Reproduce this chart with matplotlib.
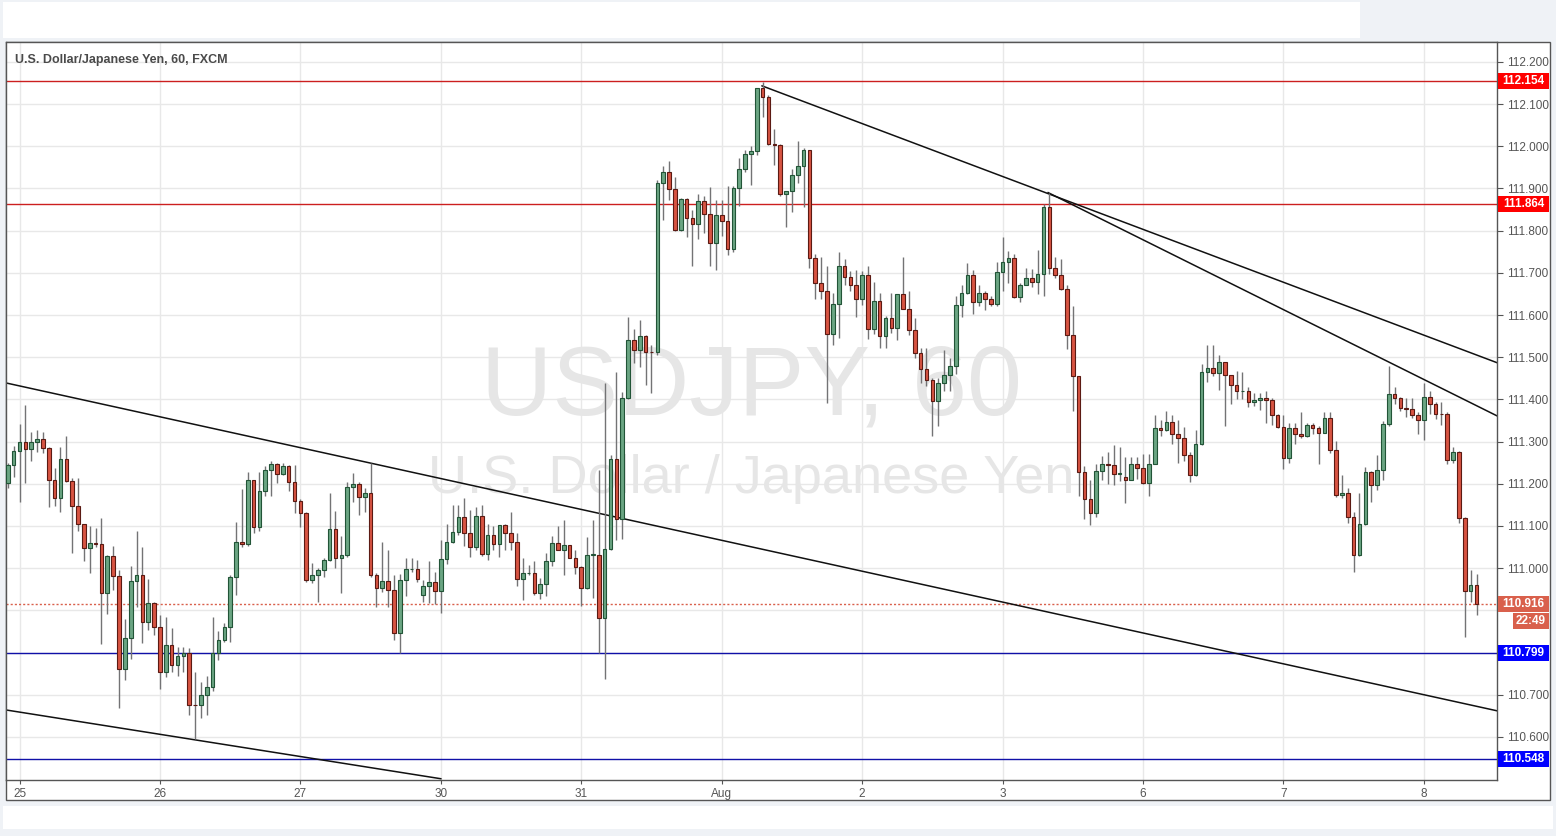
import matplotlib.pyplot as plt
from matplotlib.patches import Rectangle
from matplotlib.transforms import blended_transform_factory
import numpy as np

plt.rcParams['font.family'] = ['Liberation Sans', 'DejaVu Sans']

# hourly USD/JPY candles (index 0 = 22:00 on the 24th)
opens = [
    111.201, 111.244, 111.278, 111.298, 111.282, 111.298, 111.306, 111.284, 111.209, 111.166, 111.258, 111.207,
    111.148, 111.104, 111.047, 111.059, 111.057, 110.941, 111.029, 110.982, 110.760, 110.834, 110.970, 110.984,
    110.872, 110.917, 110.860, 110.753, 110.817, 110.770, 110.792, 110.798, 110.676, 110.675, 110.700, 110.718,
    110.800, 110.830, 110.860, 110.980, 111.062, 111.058, 111.209, 111.097, 111.183, 111.233, 111.247, 111.223,
    111.242, 111.204, 111.159, 111.130, 110.972, 110.984, 110.996, 111.020, 111.092, 111.024, 111.031, 111.192,
    111.199, 111.168, 111.178, 110.984, 110.952, 110.969, 110.948, 110.846, 110.971, 110.997, 110.999, 110.937,
    110.958, 110.967, 110.947, 111.021, 111.062, 111.085, 111.121, 111.083, 111.050, 111.123, 111.033, 111.078,
    111.057, 111.102, 111.083, 111.062, 110.974, 110.988, 110.988, 110.941, 110.963, 111.017, 111.059, 111.043,
    111.054, 111.024, 111.002, 110.953, 111.031, 111.031, 110.881, 111.045, 111.258, 111.116, 111.403, 111.541,
    111.517, 111.550, 111.513, 111.513, 111.912, 111.940, 111.898, 111.802, 111.874, 111.829, 111.816, 111.869,
    111.840, 111.770, 111.836, 111.822, 111.756, 111.901, 111.946, 111.981, 111.989, 112.138, 112.116, 112.005,
    112.004, 111.886, 111.893, 111.931, 111.952, 111.991, 111.735, 111.677, 111.658, 111.556, 111.627, 111.717,
    111.691, 111.671, 111.639, 111.694, 111.566, 111.634, 111.550, 111.594, 111.570, 111.650, 111.615, 111.564,
    111.509, 111.473, 111.446, 111.396, 111.438, 111.457, 111.480, 111.623, 111.651, 111.694, 111.631, 111.653,
    111.639, 111.625, 111.702, 111.725, 111.734, 111.642, 111.670, 111.687, 111.678, 111.697, 111.857, 111.712,
    111.695, 111.662, 111.553, 111.456, 111.229, 111.164, 111.131, 111.230, 111.247, 111.245, 111.223, 111.217,
    111.209, 111.247, 111.237, 111.201, 111.247, 111.332, 111.328, 111.347, 111.318, 111.309, 111.268, 111.221,
    111.295, 111.464, 111.475, 111.463, 111.489, 111.458, 111.434, 111.419, 111.421, 111.393, 111.399, 111.403,
    111.398, 111.363, 111.335, 111.261, 111.332, 111.317, 111.314, 111.340, 111.332, 111.321, 111.355, 111.280,
    111.173, 111.179, 111.122, 111.031, 111.104, 111.227, 111.197, 111.233, 111.341, 111.412, 111.403, 111.379,
    111.377, 111.363, 111.351, 111.406, 111.390, 111.366, 111.365, 111.256, 111.276, 111.118, 110.946, 110.960,
]
highs = [
    111.250, 111.290, 111.342, 111.387, 111.322, 111.327, 111.322, 111.288, 111.237, 111.287, 111.314, 111.213,
    111.213, 111.104, 111.100, 111.095, 111.120, 111.032, 111.053, 110.996, 110.879, 111.004, 111.089, 111.051,
    110.975, 110.919, 110.888, 110.884, 110.858, 110.813, 110.813, 110.810, 110.753, 110.731, 110.745, 110.884,
    110.852, 110.871, 110.984, 111.110, 111.187, 111.229, 111.209, 111.229, 111.242, 111.253, 111.250, 111.249,
    111.245, 111.245, 111.163, 111.134, 111.012, 111.000, 111.024, 111.179, 111.136, 111.076, 111.205, 111.225,
    111.205, 111.189, 111.249, 110.988, 111.063, 111.043, 110.984, 110.986, 111.024, 111.024, 111.020, 110.972,
    111.017, 110.992, 111.067, 111.105, 111.150, 111.150, 111.166, 111.137, 111.144, 111.150, 111.105, 111.099,
    111.102, 111.105, 111.133, 111.084, 111.024, 111.008, 111.017, 110.976, 111.035, 111.077, 111.099, 111.113,
    111.054, 111.043, 111.005, 111.073, 111.113, 111.233, 111.438, 111.268, 111.466, 111.418, 111.596, 111.566,
    111.587, 111.553, 111.529, 111.920, 111.952, 111.964, 111.927, 111.877, 111.877, 111.849, 111.887, 111.882,
    111.903, 111.873, 111.873, 111.906, 111.905, 111.972, 111.991, 112.001, 112.138, 112.153, 112.122, 112.040,
    112.005, 111.893, 111.946, 112.013, 111.995, 111.991, 111.745, 111.737, 111.716, 111.653, 111.750, 111.732,
    111.704, 111.706, 111.704, 111.716, 111.679, 111.653, 111.598, 111.653, 111.650, 111.737, 111.658, 111.592,
    111.522, 111.522, 111.451, 111.451, 111.516, 111.499, 111.646, 111.671, 111.724, 111.706, 111.672, 111.657,
    111.645, 111.725, 111.785, 111.751, 111.745, 111.676, 111.712, 111.709, 111.753, 111.862, 111.889, 111.737,
    111.733, 111.670, 111.622, 111.456, 111.243, 111.208, 111.247, 111.265, 111.275, 111.291, 111.288, 111.263,
    111.263, 111.263, 111.271, 111.271, 111.364, 111.350, 111.372, 111.362, 111.350, 111.334, 111.276, 111.328,
    111.483, 111.528, 111.528, 111.506, 111.489, 111.458, 111.468, 111.466, 111.430, 111.414, 111.416, 111.419,
    111.403, 111.365, 111.363, 111.345, 111.343, 111.370, 111.343, 111.345, 111.337, 111.369, 111.370, 111.302,
    111.221, 111.190, 111.132, 111.179, 111.240, 111.231, 111.268, 111.349, 111.479, 111.430, 111.406, 111.403,
    111.403, 111.369, 111.440, 111.419, 111.395, 111.395, 111.369, 111.286, 111.278, 111.121, 110.995, 110.986,
]
lows = [
    111.190, 111.217, 111.156, 111.201, 111.253, 111.276, 111.272, 111.146, 111.148, 111.132, 111.205, 111.037,
    111.087, 111.018, 110.988, 111.050, 110.820, 110.891, 110.948, 110.668, 110.734, 110.784, 110.909, 110.822,
    110.854, 110.842, 110.713, 110.742, 110.753, 110.745, 110.755, 110.652, 110.595, 110.644, 110.652, 110.710,
    110.783, 110.826, 110.826, 110.937, 111.050, 111.053, 111.084, 111.087, 111.170, 111.170, 111.201, 111.221,
    111.182, 111.130, 111.097, 110.968, 110.964, 110.921, 110.980, 111.016, 111.000, 110.942, 111.027, 111.158,
    111.126, 111.134, 110.980, 110.909, 110.944, 110.909, 110.830, 110.800, 110.933, 110.990, 110.968, 110.921,
    110.917, 110.915, 110.893, 111.010, 111.059, 111.079, 111.053, 111.026, 111.043, 111.028, 111.020, 111.042,
    111.026, 111.043, 111.042, 110.958, 110.925, 110.985, 110.937, 110.926, 110.934, 111.004, 111.042, 110.983,
    111.023, 110.986, 110.911, 110.950, 110.929, 110.798, 110.737, 111.042, 111.067, 111.069, 111.400, 111.486,
    111.476, 111.434, 111.415, 111.506, 111.824, 111.873, 111.800, 111.800, 111.786, 111.715, 111.780, 111.794,
    111.716, 111.707, 111.788, 111.742, 111.750, 111.859, 111.940, 111.908, 111.980, 112.070, 112.003, 111.956,
    111.881, 111.808, 111.845, 111.912, 111.857, 111.711, 111.637, 111.637, 111.392, 111.528, 111.546, 111.672,
    111.657, 111.595, 111.623, 111.542, 111.554, 111.522, 111.522, 111.558, 111.540, 111.615, 111.552, 111.499,
    111.439, 111.431, 111.313, 111.337, 111.421, 111.421, 111.461, 111.595, 111.649, 111.603, 111.621, 111.611,
    111.621, 111.621, 111.657, 111.676, 111.641, 111.631, 111.670, 111.666, 111.650, 111.646, 111.697, 111.688,
    111.660, 111.520, 111.372, 111.172, 111.117, 111.103, 111.121, 111.208, 111.200, 111.198, 111.206, 111.154,
    111.208, 111.212, 111.200, 111.172, 111.246, 111.314, 111.326, 111.295, 111.249, 111.253, 111.204, 111.219,
    111.291, 111.441, 111.456, 111.423, 111.338, 111.389, 111.401, 111.401, 111.383, 111.385, 111.374, 111.343,
    111.340, 111.332, 111.235, 111.250, 111.295, 111.308, 111.311, 111.317, 111.248, 111.321, 111.272, 111.169,
    111.166, 111.108, 110.992, 111.029, 111.103, 111.156, 111.185, 111.208, 111.337, 111.390, 111.373, 111.359,
    111.355, 111.319, 111.303, 111.365, 111.353, 111.340, 111.248, 111.250, 111.106, 110.837, 110.921, 110.889,
]
closes = [
    111.244, 111.278, 111.298, 111.282, 111.298, 111.306, 111.284, 111.209, 111.166, 111.258, 111.207, 111.148,
    111.104, 111.047, 111.059, 111.057, 110.941, 111.029, 110.982, 110.760, 110.834, 110.970, 110.984, 110.872,
    110.917, 110.860, 110.753, 110.817, 110.770, 110.792, 110.798, 110.676, 110.675, 110.700, 110.718, 110.800,
    110.830, 110.860, 110.980, 111.062, 111.058, 111.209, 111.097, 111.183, 111.233, 111.247, 111.223, 111.242,
    111.204, 111.159, 111.130, 110.972, 110.984, 110.996, 111.020, 111.092, 111.024, 111.031, 111.192, 111.199,
    111.168, 111.178, 110.984, 110.952, 110.969, 110.948, 110.846, 110.971, 110.997, 110.999, 110.974, 110.958,
    110.967, 110.947, 111.021, 111.062, 111.085, 111.121, 111.083, 111.050, 111.123, 111.033, 111.078, 111.057,
    111.102, 111.083, 111.062, 110.974, 110.988, 110.988, 110.941, 110.963, 111.017, 111.059, 111.043, 111.054,
    111.024, 111.002, 110.953, 111.031, 111.031, 110.881, 111.045, 111.258, 111.116, 111.403, 111.541, 111.517,
    111.550, 111.513, 111.512, 111.912, 111.940, 111.898, 111.802, 111.874, 111.829, 111.816, 111.869, 111.840,
    111.770, 111.836, 111.822, 111.756, 111.901, 111.946, 111.981, 111.989, 112.138, 112.116, 112.005, 112.004,
    111.886, 111.893, 111.931, 111.952, 111.991, 111.735, 111.677, 111.658, 111.556, 111.627, 111.717, 111.691,
    111.671, 111.639, 111.694, 111.566, 111.634, 111.550, 111.594, 111.570, 111.650, 111.615, 111.564, 111.509,
    111.473, 111.446, 111.396, 111.438, 111.457, 111.480, 111.623, 111.651, 111.694, 111.631, 111.653, 111.639,
    111.625, 111.702, 111.725, 111.734, 111.642, 111.670, 111.687, 111.678, 111.697, 111.857, 111.712, 111.695,
    111.662, 111.553, 111.456, 111.229, 111.164, 111.131, 111.230, 111.247, 111.245, 111.223, 111.225, 111.209,
    111.247, 111.237, 111.201, 111.247, 111.332, 111.328, 111.347, 111.318, 111.309, 111.268, 111.221, 111.295,
    111.464, 111.475, 111.463, 111.489, 111.458, 111.434, 111.419, 111.421, 111.393, 111.399, 111.403, 111.398,
    111.363, 111.335, 111.261, 111.332, 111.317, 111.314, 111.340, 111.332, 111.321, 111.355, 111.280, 111.173,
    111.179, 111.122, 111.031, 111.104, 111.227, 111.197, 111.233, 111.341, 111.412, 111.403, 111.379, 111.377,
    111.363, 111.351, 111.406, 111.390, 111.366, 111.365, 111.256, 111.276, 111.118, 110.946, 110.960, 110.916,
]

day_labels = ['25', '26', '27', '30', '31', 'Aug', '2', '3', '6', '7', '8']
day_start_idx = [2, 26, 50, 74, 98, 122, 146, 170, 194, 218, 242]

price_ticks = [110.6, 110.7, 110.8, 110.9, 111.0, 111.1, 111.2, 111.3, 111.4,
               111.5, 111.6, 111.7, 111.8, 111.9, 112.0, 112.1, 112.2]
hidden_ticks = [110.8, 110.9]  # covered by the price boxes

resistance = [112.154, 111.864]
support = [110.799, 110.548]
countdown = '22:49'

# drawn trend lines: (start index, start price, end index, end price)
trend_x0 = [-0.31, -0.31, 128.9, 177.8]
trend_p0 = [111.439, 110.664, 112.143, 111.890]
trend_x1 = [254.5, 74.0, 254.5, 254.5]
trend_p1 = [110.662, 110.501, 111.487, 111.361]

W, H = 1556, 836
def fx(px):
    return px / W
def fy(py):
    return 1 - py / H

fig = plt.figure(figsize=(W / 100, H / 100), dpi=100)
fig.patch.set_facecolor('#eff2f6')
fig.add_artist(Rectangle((fx(3), fy(38)), fx(1357), 36 / H, transform=fig.transFigure,
                         facecolor='white', edgecolor='none', zorder=-5))
fig.add_artist(Rectangle((fx(3), fy(829)), fx(1550), 23 / H, transform=fig.transFigure,
                         facecolor='white', edgecolor='none', zorder=-5))
fig.add_artist(Rectangle((fx(6), fy(800)), fx(1544), 758 / H, transform=fig.transFigure,
                         facecolor='white', edgecolor='#555555', lw=1, zorder=-4))

ax = fig.add_axes([fx(6), fy(780), fx(1491), 738 / H])
ax.set_facecolor('white')
for s in ax.spines.values():
    s.set_color('#555555')
    s.set_linewidth(1)

idx = np.arange(len(closes))
o = np.array(opens); h = np.array(highs); l = np.array(lows); c = np.array(closes)
up = c >= o

# grid
for p in price_ticks:
    ax.axhline(p, color='#e8e8e8', lw=1, zorder=0)
for d in day_start_idx:
    ax.axvline(d, color='#e8e8e8', lw=1, zorder=0)

# watermark
ax.text(0.5, 0.530, 'USDJPY, 60', transform=ax.transAxes, ha='center', va='center',
        fontsize=71, color='#e6e6e6', zorder=0.5)
ax.text(0.5, 0.408, 'U.S. Dollar / Japanese Yen', transform=ax.transAxes, ha='center',
        va='center', fontsize=39, color='#e6e6e6', zorder=0.5)

# levels
for p in resistance:
    ax.axhline(p, color='#cc1f1f', lw=1, zorder=2)
for p in support:
    ax.axhline(p, color='#1010a8', lw=1, zorder=2)
ax.axhline(closes[-1], color='#d9604c', lw=1, ls=(0, (1.5, 1.5)), zorder=2)

# trend lines
for x0, p0, x1, p1 in zip(trend_x0, trend_p0, trend_x1, trend_p1):
    ax.plot([x0, x1], [p0, p1], color='#111111', lw=1.1, zorder=2.5)

# candles
ax.vlines(idx, l, h, color='#737375', lw=1, zorder=3)
body_lo = np.minimum(o, c)
body_h = np.maximum(np.abs(c - o), 0.0015)
ax.bar(idx[up], body_h[up], bottom=body_lo[up], width=0.62, color='#6ba583',
       edgecolor='#225437', lw=0.8, zorder=4)
ax.bar(idx[~up], body_h[~up], bottom=body_lo[~up], width=0.62, color='#d75442',
       edgecolor='#5b1a13', lw=0.8, zorder=4)

ax.set_xlim(-0.31, 254.5)
ax.set_ylim(110.498, 112.247)

ax.set_xticks(day_start_idx)
ax.set_xticklabels(day_labels)
ax.tick_params(axis='x', length=3, color='#555555', labelcolor='#555555', labelsize=8.5, pad=3)

ax.yaxis.tick_right()
shown = [p for p in price_ticks if p not in hidden_ticks]
ax.set_yticks(shown)
ax.set_yticklabels(['%.3f' % p for p in shown])
ax.tick_params(axis='y', length=4, color='#555555', labelcolor='#555555', labelsize=8.5, pad=3)

# price boxes on the scale
blend = blended_transform_factory(fig.transFigure, ax.transData)
box_h = 16 / 421.9
def price_box(p, color, text, x0=1498, x1=1549, y=None):
    yy = p if y is None else y
    ax.add_patch(Rectangle((fx(x0), yy - box_h / 2), fx(x1 - x0), box_h, transform=blend,
                           facecolor=color, edgecolor='none', clip_on=False, zorder=6))
    ax.text(fx((x0 + x1) / 2), yy, text, transform=blend, ha='center', va='center',
            color='white', fontsize=8.5, weight='bold', clip_on=False, zorder=7)

for p in resistance:
    price_box(p, '#ff0000', '%.3f' % p)
for p in support:
    price_box(p, '#0000ff', '%.3f' % p)
price_box(closes[-1], '#d9604c', '%.3f' % closes[-1])
price_box(closes[-1], '#d9604c', countdown, x0=1513, y=closes[-1] - 17 / 421.9)

fig.text(fx(15), fy(60), 'U.S. Dollar/Japanese Yen, 60, FXCM', ha='left', va='center',
         fontsize=9, weight='bold', color='#4a4a4a')

fig.savefig('out.png', dpi=100, facecolor=fig.get_facecolor())
